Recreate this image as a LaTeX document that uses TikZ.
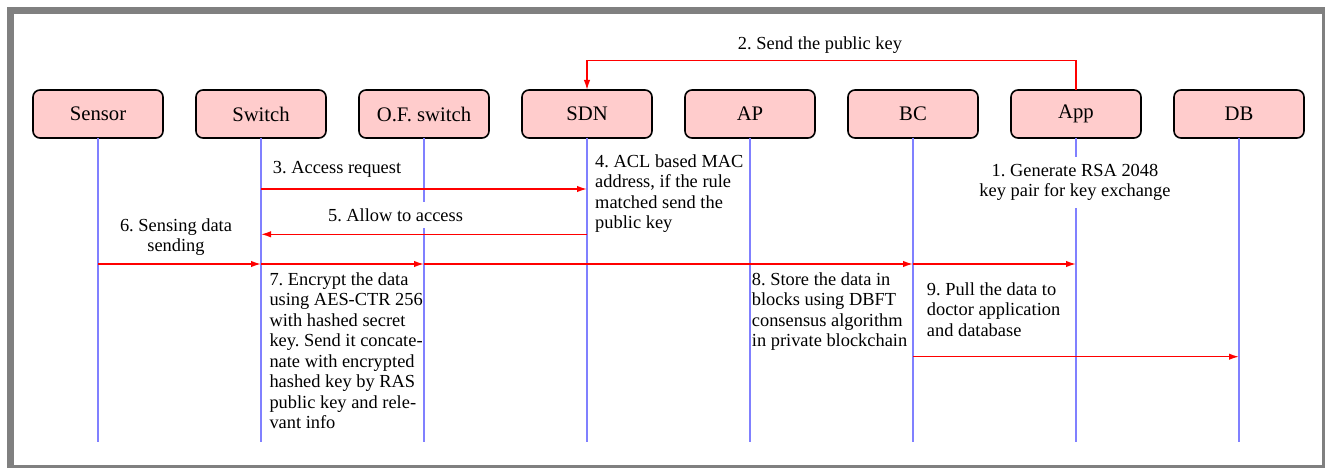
\documentclass[tikz,border=0pt]{standalone}
\usepackage{fontspec}
\setmainfont{Liberation Serif}
\frenchspacing
\usetikzlibrary{arrows.meta,positioning}
\definecolor{ActorPink}{HTML}{FFCCCC}
\definecolor{LifeBlue}{HTML}{8080FF}
\definecolor{FrameGray}{HTML}{808080}

\begin{document}
\begin{tikzpicture}[
    x=1pt, y=-1pt,
    node distance=33pt,
    actor/.style={rectangle, rounded corners=7pt, draw, line width=1.6pt, fill=ActorPink, minimum width=130pt, minimum height=48pt, outer sep=0pt, font=\fontsize{20.7}{24}\selectfont},
    lifeline/.style={draw=LifeBlue, line width=1.3pt},
    msg/.style={-{Latex[length=10pt,width=6.5pt]}, red, line width=1.5pt},
    note/.style={inner sep=0pt, align=left, font=\fontsize{18.4}{20.5}\selectfont},
    cnote/.style={note, align=center, fill=white, inner sep=7pt}
  ]
  % Frame
  \useasboundingbox (0,0) rectangle (1325,468);
  \draw[FrameGray, line width=7.5pt] (10.3,10.3) rectangle (1326,469);

  % Participants
  \node[actor] (sensor) at (98,114) {Sensor};
  \node[actor, right=of sensor] (switch) {Switch};
  \node[actor, right=of switch] (ofswitch) {O.F. switch};
  \node[actor, right=of ofswitch] (sdn) {SDN};
  \node[actor, right=of sdn] (ap) {AP};
  \node[actor, right=of ap] (bc) {BC};
  \node[actor, right=of bc] (app) {App};
  \node[actor, right=of app] (db) {DB};

  % Lifelines
  \foreach \n in {sensor,switch,ofswitch,sdn,ap,bc,app,db}{
    \coordinate (\n-end) at (\n.south |- 0,442);
    \draw[lifeline] (\n.south) -- (\n-end);
  }

  % Message rows
  \coordinate (row2) at (0,60.7);
  \coordinate (row3) at (0,189);
  \coordinate (row5) at (0,234.3);
  \coordinate (row6) at (0,264);
  \coordinate (row9) at (0,356.7);

  % Messages
  \draw[msg] (app.north) -- (app.north |- row2) -- (sdn.north |- row2) -- (sdn.north);
  \draw[msg] (switch |- row3) -- (sdn |- row3);
  \draw[msg] (sdn |- row5) -- (switch |- row5);
  \draw[msg] (sensor |- row6) -- (switch |- row6);
  \draw[msg] (switch |- row6) -- (ofswitch |- row6);
  \draw[msg] (ofswitch |- row6) -- (bc |- row6);
  \draw[msg] (bc |- row6) -- (app |- row6);
  \draw[msg] (bc |- row9) -- (db |- row9);

  % Step notes
  \node[note, anchor=base] (n2) at (820,50) {2. Send the public key};
  \node[cnote, anchor=north] (n1) at (1075,157) {1. Generate RSA 2048\\key pair for key exchange};
  \node[note, anchor=base west] (n3) at (272.7,173) {3. Access request};
  \node[note, anchor=north west] (n4) at (595,154.1) {4. ACL based MAC\\address, if the rule\\matched send the\\public key};
  \node[note, fill=white, inner sep=6.5pt, anchor=base] (n5) at (395.5,221) {5. Allow to access};
  \node[note, align=center, anchor=north] (n6) at (176,218.4) {6. Sensing data\\sending};
  \node[note, anchor=north west] (n7) at (269.3,272.4) {7. Encrypt the data\\using AES-CTR 256\\with hashed secret\\key. Send it concate-\\nate with encrypted\\hashed key by RAS\\public key and rele-\\vant info};
  \node[note, anchor=north west] (n8) at (751.7,272.4) {8. Store the data in\\blocks using DBFT\\consensus algorithm\\in private blockchain};
  \node[note, anchor=north west] (n9) at (926.7,282.4) {9. Pull the data to\\doctor application\\and database};
\end{tikzpicture}
\end{document}
